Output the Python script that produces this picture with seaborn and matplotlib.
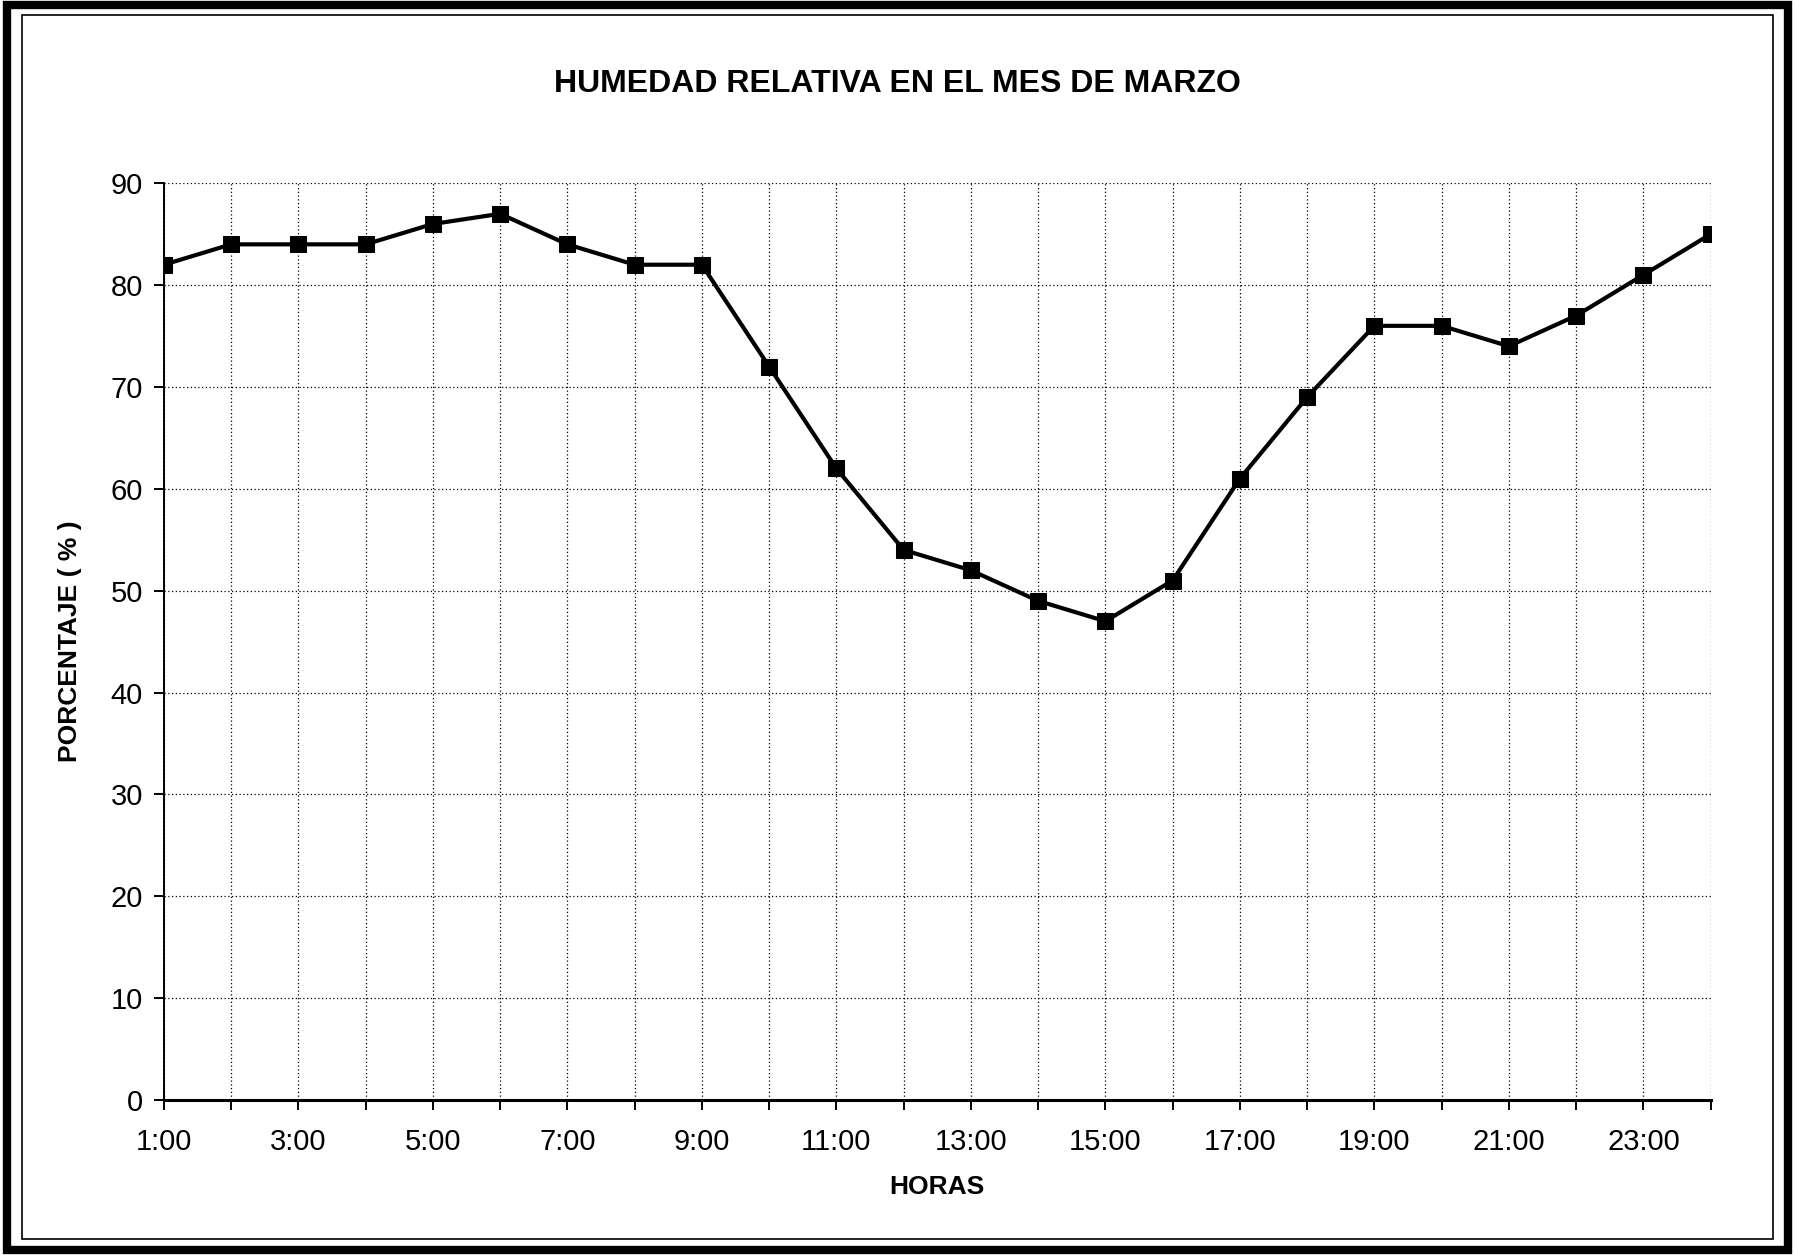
import matplotlib
matplotlib.use('Agg')
import matplotlib.pyplot as plt
from matplotlib.patches import Rectangle
import seaborn as sns
import pandas as pd

# humedad relativa promedio por hora, marzo
horas = [f'{h}:00' for h in range(1, 25)]
humedad = [82, 84, 84, 84, 86, 87, 84, 82, 82, 72, 62, 54,
           52, 49, 47, 51, 61, 69, 76, 76, 74, 77, 81, 85]

df = pd.DataFrame({'pos': range(len(horas)), 'hora': horas, 'humedad': humedad})

sns.set_style('white')
plt.rcParams['font.family'] = ['Liberation Sans', 'DejaVu Sans']
plt.rcParams['text.color'] = 'black'
plt.rcParams['axes.labelcolor'] = 'black'
plt.rcParams['xtick.color'] = 'black'
plt.rcParams['ytick.color'] = 'black'

fig = plt.figure(figsize=(17.95, 12.55), dpi=100)
ax = fig.add_axes([0.0913, 0.1235, 0.8617, 0.7305])

sns.lineplot(data=df, x='pos', y='humedad', ax=ax, color='black', linewidth=3,
             marker='s', markersize=11, markeredgecolor='black', markerfacecolor='black')

ax.set_xlim(0, len(horas) - 1)
ax.set_ylim(0, 90)
ax.set_yticks(range(0, 91, 10))
ax.set_xticks(df['pos'])
ax.set_xticklabels([h if i % 2 == 0 else '' for i, h in enumerate(horas)])
ax.tick_params(axis='both', labelsize=21, direction='out', length=7, width=1.4,
               color='black', labelcolor='black', bottom=True, left=True)
ax.tick_params(axis='x', pad=13)
ax.tick_params(axis='y', pad=8)
ax.grid(True, linestyle=(0, (1, 2)), color='black', linewidth=0.9)

for s in ['top', 'right']:
    ax.spines[s].set_visible(False)
ax.spines['left'].set_linewidth(1.4)
ax.spines['bottom'].set_linewidth(2.2)
ax.spines['left'].set_color('black')
ax.spines['bottom'].set_color('black')

ax.set_xlabel('HORAS', fontsize=19, fontweight='bold', labelpad=14)
ax.set_ylabel('PORCENTAJE ( % )', fontsize=19, fontweight='bold', labelpad=21)
fig.text(0.5, 0.933, 'HUMEDAD RELATIVA EN EL MES DE MARZO', ha='center', va='center',
         fontsize=23, fontweight='bold')

# marco exterior
fig.patches.append(Rectangle((0.004, 0.004), 0.992, 0.992, transform=fig.transFigure,
                             fill=False, edgecolor='black', linewidth=6))
fig.patches.append(Rectangle((0.012, 0.013), 0.976, 0.975, transform=fig.transFigure,
                             fill=False, edgecolor='black', linewidth=1.2))

plt.savefig('out.png', dpi=100)
